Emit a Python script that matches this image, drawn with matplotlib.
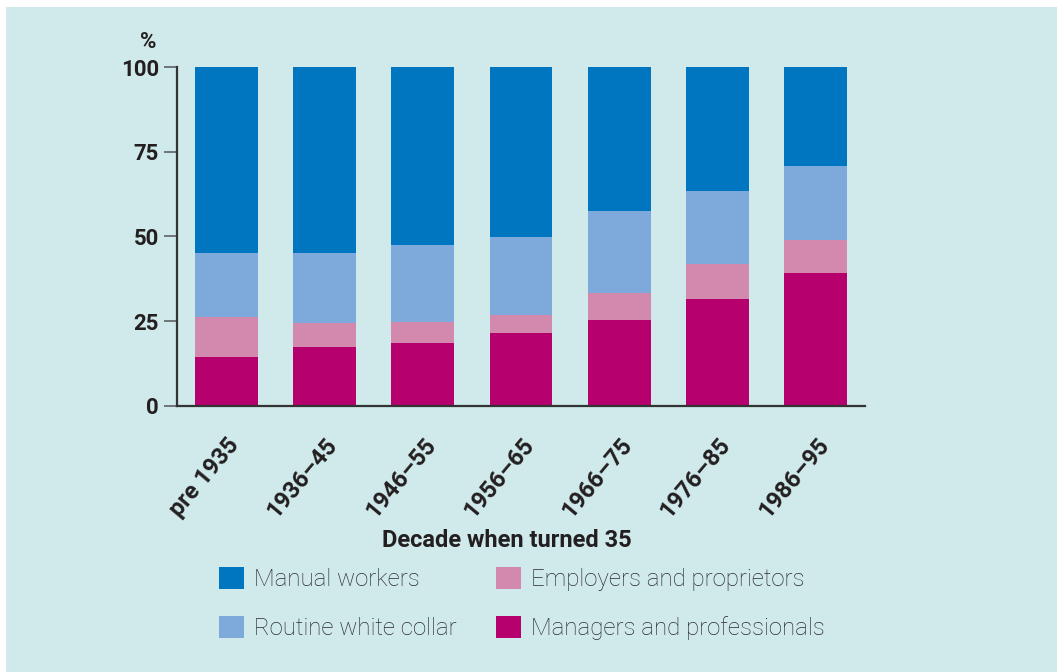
import matplotlib
matplotlib.use("Agg")
import matplotlib.pyplot as plt
from matplotlib.patches import Patch, Rectangle

plt.rcParams["font.family"] = ["Roboto", "DejaVu Sans"]

BG = "#d0eaeb"
INK = "#231f20"

decades = ["pre 1935", "1936–45", "1946–55", "1956–65", "1966–75", "1976–85", "1986–95"]

# share of people (%) in each class, stacked bottom to top
managers = [14.5, 17.4, 18.6, 21.6, 25.4, 31.5, 39.3]
employers = [11.7, 7.0, 6.2, 5.2, 7.9, 10.4, 9.7]
routine = [19.0, 20.8, 22.7, 23.0, 24.2, 21.5, 21.9]
manual = [54.8, 54.8, 52.5, 50.2, 42.5, 36.6, 29.1]

series = [
    ("Managers and professionals", managers, "#b5006e"),
    ("Employers and proprietors", employers, "#d388ad"),
    ("Routine white collar", routine, "#7eaadb"),
    ("Manual workers", manual, "#0076c0"),
]

fig = plt.figure(figsize=(10.57, 6.72), dpi=100, facecolor="white")
fig.patches.append(Rectangle((6 / 1057, 0), 1, 1 - 7 / 672, transform=fig.transFigure,
                             facecolor=BG, edgecolor="none", zorder=-10))

ax = fig.add_axes([177 / 1057, 1 - 405.7 / 672, 688 / 1057, 338.7 / 672])
ax.set_facecolor("none")

x = range(len(decades))
bottom = [0.0] * len(decades)
for name, vals, color in series:
    ax.bar(x, vals, width=0.64, bottom=bottom, color=color, label=name, zorder=2)
    bottom = [b + v for b, v in zip(bottom, vals)]

ax.set_xlim(-0.5, 6.5)
ax.set_ylim(0, 100)
ax.set_yticks([0, 25, 50, 75, 100])
ax.tick_params(axis="y", length=9.5, width=1.1, color="#555555", pad=3.5,
               labelsize=16, labelcolor=INK)
for lab in ax.get_yticklabels():
    lab.set_fontweight("bold")

ax.set_xticks(list(x))
ax.set_xticklabels(decades, rotation=50, ha="right", va="top", rotation_mode="anchor",
                   fontsize=17, fontweight="bold", color=INK)
ax.tick_params(axis="x", length=0, pad=20)

for side in ("top", "right"):
    ax.spines[side].set_visible(False)
for side in ("left", "bottom"):
    ax.spines[side].set_color("#333333")
    ax.spines[side].set_linewidth(1.6)
    ax.spines[side].set_zorder(3)

ax.set_xlabel("Decade when turned 35", fontsize=17, fontweight="bold", color=INK)
ax.xaxis.set_label_coords(0.48, -0.365)

fig.text(148 / 1057, 1 - 42 / 672, "%", fontsize=16, fontweight="bold", color=INK,
         ha="center", va="center")

order = [3, 2, 1, 0]
handles = [Patch(facecolor=series[i][2], label=series[i][0]) for i in order]
fig.legend(handles=handles, ncol=2, loc="upper left", bbox_to_anchor=(219 / 1057, 1 - 567 / 672),
           frameon=False, prop={"weight": "light", "size": 17.3},
           handlelength=1.04, handleheight=1.04, handletextpad=0.43,
           columnspacing=1.62, labelspacing=1.02, borderpad=0, borderaxespad=0,
           labelcolor="#2b2b2b")

fig.savefig("out.png", dpi=100, facecolor=fig.get_facecolor())
